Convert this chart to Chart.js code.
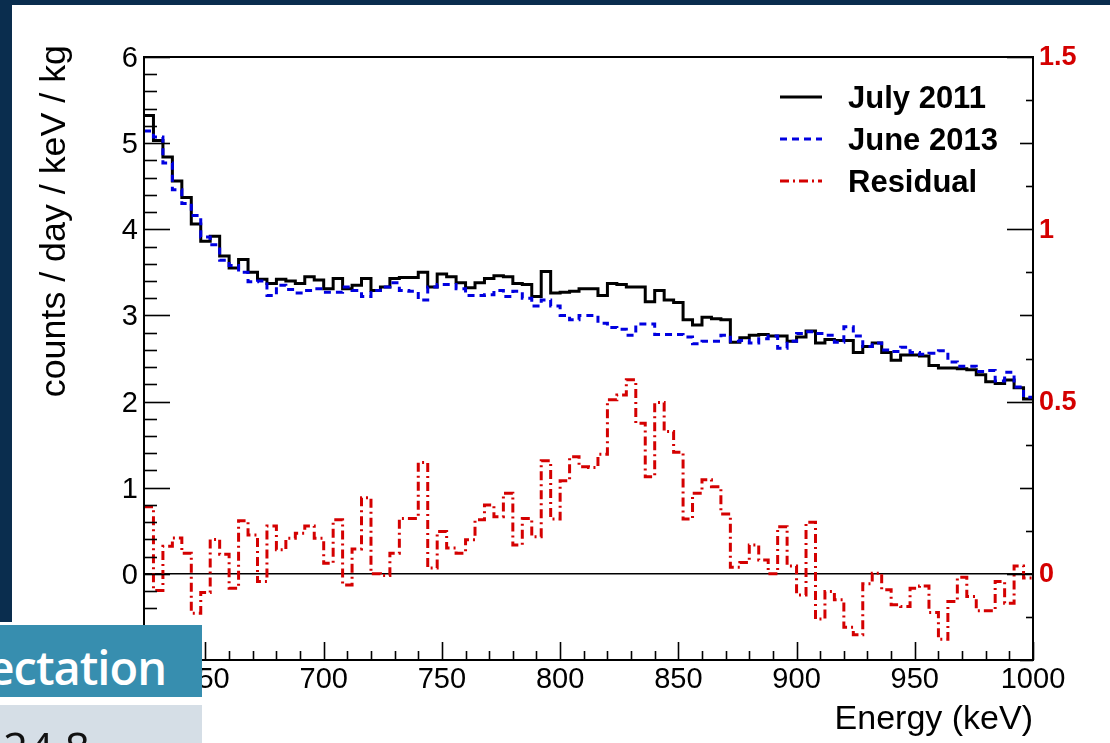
<!DOCTYPE html>
<html>
<head>
<meta charset="utf-8">
<script src="https://cdn.jsdelivr.net/npm/chart.js@4.4.0/dist/chart.umd.min.js"></script>
<style>
  html, body { margin: 0; padding: 0; background: #fff; }
  #wrap { position: relative; width: 1110px; height: 743px; overflow: hidden; background: #fff; }
  #chart { position: absolute; left: 0; top: 0; }
  .navyTop { position: absolute; left: 0; top: 0; width: 1110px; height: 5px; background: #0a2d4e; }
  .navyLeft { position: absolute; left: 0; top: 0; width: 12px; height: 622px; background: #0a2d4e; }
  .tab { position: absolute; left: 0; top: 625px; width: 202px; height: 72px; background: #378eaf; overflow: hidden; }
  .tab span { position: absolute; right: 36px; top: 10px; line-height: 48px; white-space: nowrap;
              color: #fff; font: 600 47px 'Open Sans', 'Noto Sans', sans-serif; letter-spacing: -1px; }
  .sub { position: absolute; left: 0; top: 705px; width: 202px; height: 38px; background: #d5dee6; overflow: hidden; }
  .sub span { position: absolute; right: 112px; top: 12px; line-height: 44px; white-space: nowrap;
              color: #111; font: 400 44px 'Open Sans', 'Noto Sans', sans-serif; }
</style>
</head>
<body>
<div id="wrap">
  <canvas id="chart" width="1110" height="743"></canvas>
  <div class="navyTop"></div>
  <div class="navyLeft"></div>
  <div class="tab"><span>Expectation</span></div>
  <div class="sub"><span>324 8</span></div>
</div>
<script>
// histogram binning (keV)
const binStart = 624;
const binWidth = 4;

// counts / day / keV / kg, one value per 4 keV bin
const july2011 = [
  5.32, 5.03, 4.84, 4.56, 4.37, 4.06, 3.86, 3.92, 3.69, 3.55,
  3.65, 3.50, 3.42, 3.37, 3.42, 3.40, 3.37, 3.45, 3.41, 3.31,
  3.43, 3.31, 3.35, 3.43, 3.29, 3.33, 3.43, 3.44, 3.44, 3.50,
  3.33, 3.48, 3.45, 3.38, 3.32, 3.38, 3.43, 3.46, 3.45, 3.37,
  3.36, 3.22, 3.51, 3.26, 3.27, 3.28, 3.31, 3.31, 3.23, 3.37,
  3.36, 3.33, 3.33, 3.16, 3.29, 3.18, 3.15, 2.95, 2.89, 2.98,
  2.96, 2.95, 2.69, 2.74, 2.77, 2.78, 2.76, 2.76, 2.70, 2.75,
  2.82, 2.68, 2.72, 2.71, 2.71, 2.57, 2.64, 2.68, 2.57, 2.48,
  2.54, 2.54, 2.53, 2.42, 2.39, 2.39, 2.38, 2.37, 2.31, 2.23,
  2.21, 2.25, 2.16, 2.03
];
const june2013 = [
  5.14, 5.07, 4.77, 4.46, 4.30, 4.16, 3.91, 3.82, 3.64, 3.58,
  3.50, 3.39, 3.40, 3.23, 3.35, 3.30, 3.26, 3.29, 3.31, 3.27,
  3.27, 3.33, 3.29, 3.22, 3.29, 3.33, 3.38, 3.29, 3.28, 3.18,
  3.33, 3.36, 3.36, 3.31, 3.23, 3.23, 3.24, 3.29, 3.22, 3.28,
  3.20, 3.11, 3.18, 3.11, 3.00, 2.95, 3.00, 3.00, 2.91, 2.86,
  2.84, 2.77, 2.90, 2.90, 2.78, 2.78, 2.78, 2.75, 2.67, 2.70,
  2.70, 2.77, 2.70, 2.71, 2.68, 2.73, 2.76, 2.62, 2.70, 2.79,
  2.81, 2.79, 2.77, 2.69, 2.87, 2.76, 2.64, 2.68, 2.60, 2.58,
  2.63, 2.57, 2.55, 2.56, 2.59, 2.46, 2.41, 2.41, 2.35, 2.36,
  2.24, 2.34, 2.17, 2.05
];
// residual, read on the right axis
const residual = [
  0.195, -0.048, 0.080, 0.104, 0.060, -0.114, -0.054, 0.100, 0.057, -0.042,
  0.154, 0.113, -0.022, 0.139, 0.070, 0.103, 0.118, 0.139, 0.103, 0.031,
  0.157, -0.032, 0.072, 0.221, 0.000, -0.005, 0.060, 0.161, 0.161, 0.323,
  0.017, 0.123, 0.075, 0.060, 0.099, 0.157, 0.200, 0.166, 0.234, 0.084,
  0.161, 0.108, 0.328, 0.159, 0.270, 0.340, 0.311, 0.309, 0.347, 0.505,
  0.519, 0.563, 0.437, 0.282, 0.497, 0.413, 0.353, 0.159, 0.234, 0.273,
  0.253, 0.174, 0.019, 0.033, 0.084, 0.040, 0.000, 0.137, 0.023, -0.061,
  0.150, -0.131, -0.051, -0.075, -0.155, -0.177, -0.029, 0.002, -0.046, -0.090,
  -0.095, -0.042, -0.035, -0.112, -0.190, -0.080, -0.010, -0.066, -0.107, -0.107,
  -0.022, -0.085, 0.023, -0.012
];

const seriesLabels = ['July 2011', 'June 2013', 'Residual'];
const xTickValues = [650, 700, 750, 800, 850, 900, 950, 1000];
const yTickValues = [-1, 0, 1, 2, 3, 4, 5, 6];
const y2TickValues = [0, 0.5, 1, 1.5];

const FONT = "'Liberation Sans', Arial, Helvetica, sans-serif";

// bin contents -> points on the bin low edges, plus the closing edge
function toSteps(values) {
  const pts = values.map((v, i) => ({ x: binStart + i * binWidth, y: v }));
  pts.push({ x: binStart + values.length * binWidth, y: values[values.length - 1] });
  return pts;
}

function fixTicks(values) {
  return scale => { scale.ticks = values.map(v => ({ value: v })); };
}

// ROOT-like frame, inner ticks, legend and axis titles
const rootFrame = {
  id: 'rootFrame',
  afterDraw(chart) {
    const ctx = chart.ctx;
    const a = chart.chartArea;
    const sx = chart.scales.x, sy = chart.scales.y, sy2 = chart.scales.y2;

    ctx.save();
    ctx.strokeStyle = '#000';
    ctx.lineWidth = 1.6;

    // x ticks: every 10 keV, long every 50
    for (let k = Math.ceil(sx.min / 10); k <= Math.floor(sx.max / 10); k++) {
      const v = k * 10;
      const px = Math.round(sx.getPixelForValue(v)) + 0.5;
      const len = v % 50 === 0 ? 18 : 9;
      ctx.beginPath(); ctx.moveTo(px, a.bottom); ctx.lineTo(px, a.bottom - len); ctx.stroke();
    }
    // left y ticks: every 0.2, long at integers
    for (let k = Math.ceil(sy.min * 5); k <= Math.floor(sy.max * 5); k++) {
      const py = Math.round(sy.getPixelForValue(k / 5)) + 0.5;
      const len = k % 5 === 0 ? 26 : 13;
      ctx.beginPath(); ctx.moveTo(a.left, py); ctx.lineTo(a.left + len, py); ctx.stroke();
    }
    // right y ticks: every 0.125, medium 0.25, long 0.5
    for (let k = Math.ceil(sy2.min * 8); k <= Math.floor(sy2.max * 8); k++) {
      const py = Math.round(sy2.getPixelForValue(k / 8)) + 0.5;
      const len = k % 4 === 0 ? 26 : (k % 2 === 0 ? 13 : 7);
      ctx.beginPath(); ctx.moveTo(a.right, py); ctx.lineTo(a.right - len, py); ctx.stroke();
    }

    // frame
    ctx.lineWidth = 2;
    ctx.strokeRect(a.left, a.top, a.right - a.left, a.bottom - a.top);

    // legend
    const lg = { x0: 780, x1: 822, tx: 848, y0: 97, dy: 42 };
    chart.data.datasets.forEach((ds, i) => {
      const y = lg.y0 + i * lg.dy;
      ctx.strokeStyle = ds.borderColor;
      ctx.lineWidth = ds.borderWidth;
      ctx.setLineDash(ds.borderDash || []);
      ctx.beginPath(); ctx.moveTo(lg.x0, y); ctx.lineTo(lg.x1, y); ctx.stroke();
      ctx.setLineDash([]);
      ctx.fillStyle = '#000';
      ctx.font = 'bold 31px ' + FONT;
      ctx.textAlign = 'left';
      ctx.textBaseline = 'alphabetic';
      ctx.fillText(ds.label, lg.tx, y + 11);
    });

    // axis titles
    ctx.fillStyle = '#000';
    ctx.font = '34px ' + FONT;
    ctx.textAlign = 'right';
    ctx.textBaseline = 'alphabetic';
    ctx.fillText('Energy (keV)', a.right, 729);

    ctx.translate(65, 45);
    ctx.rotate(-Math.PI / 2);
    ctx.font = '35.8px ' + FONT;
    ctx.fillText('counts / day / keV / kg', 0, 0);
    ctx.restore();
  }
};

const tickFont = { family: FONT, size: 29 };

new Chart(document.getElementById('chart'), {
  type: 'line',
  data: {
    datasets: [
      { label: seriesLabels[0], data: toSteps(july2011), yAxisID: 'y', order: 2,
        borderColor: '#000000', borderWidth: 3, stepped: 'before' },
      { label: seriesLabels[1], data: toSteps(june2013), yAxisID: 'y', order: 1,
        borderColor: '#0000e0', borderWidth: 3, borderDash: [7, 5], stepped: 'before' },
      { label: seriesLabels[2], data: toSteps(residual), yAxisID: 'y2', order: 0,
        borderColor: '#d40000', borderWidth: 3, borderDash: [9, 4, 2, 4], stepped: 'before' }
    ]
  },
  options: {
    responsive: false,
    animation: false,
    layout: { padding: { top: 57, left: 0, right: 0, bottom: 0 } },
    elements: { point: { radius: 0 }, line: { tension: 0, fill: false } },
    plugins: { legend: { display: false }, tooltip: { enabled: false } },
    scales: {
      x: {
        type: 'linear', min: binStart, max: 1000,
        afterBuildTicks: fixTicks(xTickValues),
        afterFit: s => { s.height = 83; },
        grid: { display: false, drawTicks: false },
        border: { display: false },
        ticks: { font: tickFont, color: '#000', padding: 3, maxRotation: 0, autoSkip: false,
                 callback: v => String(v) }
      },
      y: {
        position: 'left', min: -1, max: 6,
        afterBuildTicks: fixTicks(yTickValues),
        afterFit: s => { s.width = 144; },
        grid: { drawTicks: false, lineWidth: 1.5,
                color: c => (c.tick && c.tick.value === 0) ? '#000' : 'rgba(0,0,0,0)' },
        border: { display: false },
        ticks: { font: tickFont, color: '#000', padding: 6, labelOffset: 2, autoSkip: false,
                 callback: v => String(v) }
      },
      y2: {
        position: 'right', min: -0.25, max: 1.5,
        afterBuildTicks: fixTicks(y2TickValues),
        afterFit: s => { s.width = 77; },
        grid: { display: false, drawTicks: false },
        border: { display: false },
        ticks: { font: { family: FONT, size: 27, weight: 'bold' }, color: '#d40000', padding: 6,
                 labelOffset: 1, autoSkip: false, callback: v => String(v) }
      }
    }
  },
  plugins: [rootFrame]
});
</script>
</body>
</html>
